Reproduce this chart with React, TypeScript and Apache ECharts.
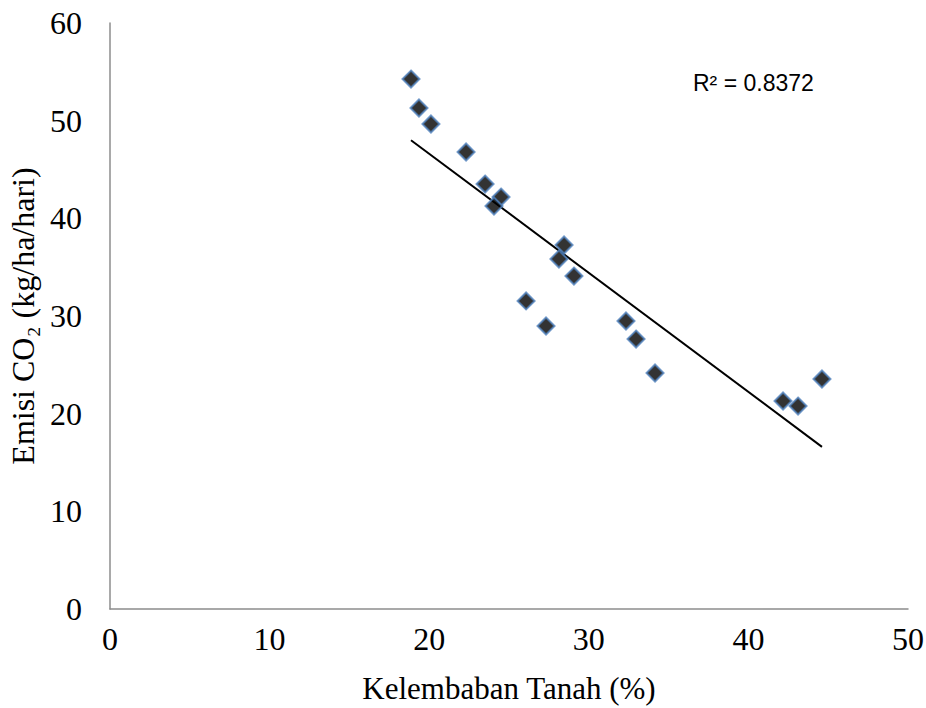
import React, { useEffect, useRef } from "react";
import * as echarts from "echarts";

const moisture = [18.86, 19.36, 20.11, 22.31, 23.5, 24.5, 24.06, 28.45, 28.13, 29.07, 26.07, 27.32, 32.33, 32.96, 34.15, 42.17, 43.11, 44.61];
const emission = [54.26, 51.3, 49.66, 46.79, 43.51, 42.18, 41.26, 37.27, 35.84, 34.09, 31.54, 28.98, 29.49, 27.64, 24.16, 21.3, 20.78, 23.55];
const trendX = [18.86, 44.61];
const trendY = [48.0, 16.6];
const xTicks = [0, 10, 20, 30, 40, 50];
const yTicks = [0, 10, 20, 30, 40, 50, 60];
const rSquared = "R² = 0.8372";

export default function App() {
  const ref = useRef<HTMLDivElement>(null);
  useEffect(() => {
    const chart = echarts.init(ref.current!, null, { renderer: "svg" });
    const serif = "'Liberation Serif', 'Times New Roman', serif";
    chart.setOption({
      animation: false,
      backgroundColor: "#ffffff",
      grid: { left: 110, right: 18, top: 23, bottom: 99, containLabel: false, outerBoundsMode: "none" },
      xAxis: {
        type: "value",
        min: xTicks[0],
        max: xTicks[xTicks.length - 1],
        interval: 10,
        name: "Kelembaban Tanah (%)",
        nameLocation: "middle",
        nameGap: 64,
        nameTextStyle: { fontFamily: serif, fontSize: 31, color: "#000" },
        axisLine: { lineStyle: { color: "#8c8c8c", width: 1.5 } },
        axisTick: { show: false },
        splitLine: { show: false },
        axisLabel: { fontFamily: serif, fontSize: 32, color: "#000", margin: 14 },
      },
      yAxis: {
        type: "value",
        min: yTicks[0],
        max: yTicks[yTicks.length - 1],
        interval: 10,
        name: "Emisi CO₂ (kg/ha/hari)",
        nameLocation: "middle",
        nameGap: 69,
        nameRotate: 90,
        nameTextStyle: { fontFamily: serif, fontSize: 32, color: "#000" },
        axisLine: { show: true, lineStyle: { color: "#8c8c8c", width: 1.5 } },
        axisTick: { show: false },
        splitLine: { show: false },
        axisLabel: { fontFamily: serif, fontSize: 32, color: "#000", margin: 28 },
      },
      series: [
        {
          type: "line",
          data: trendX.map((x, i) => [x, trendY[i]]),
          symbol: "none",
          lineStyle: { color: "#000", width: 2 },
          z: 1,
        },
        {
          type: "scatter",
          data: moisture.map((x, i) => [x, emission[i]]),
          symbol: "diamond",
          symbolSize: 17,
          itemStyle: { color: "#000", borderColor: "#4f81bd", borderWidth: 2 },
          z: 2,
        },
      ],
      graphic: [
        {
          type: "text",
          left: 693,
          top: 71,
          style: {
            text: rSquared,
            font: "23px 'Liberation Sans', Arial, sans-serif",
            fill: "#000",
          },
        },
      ],
    });
    return () => chart.dispose();
  }, []);
  return (
    <div
      ref={ref}
      style={{ width: 926, height: 708, position: "absolute", left: 0, top: 0 }}
    />
  );
}
